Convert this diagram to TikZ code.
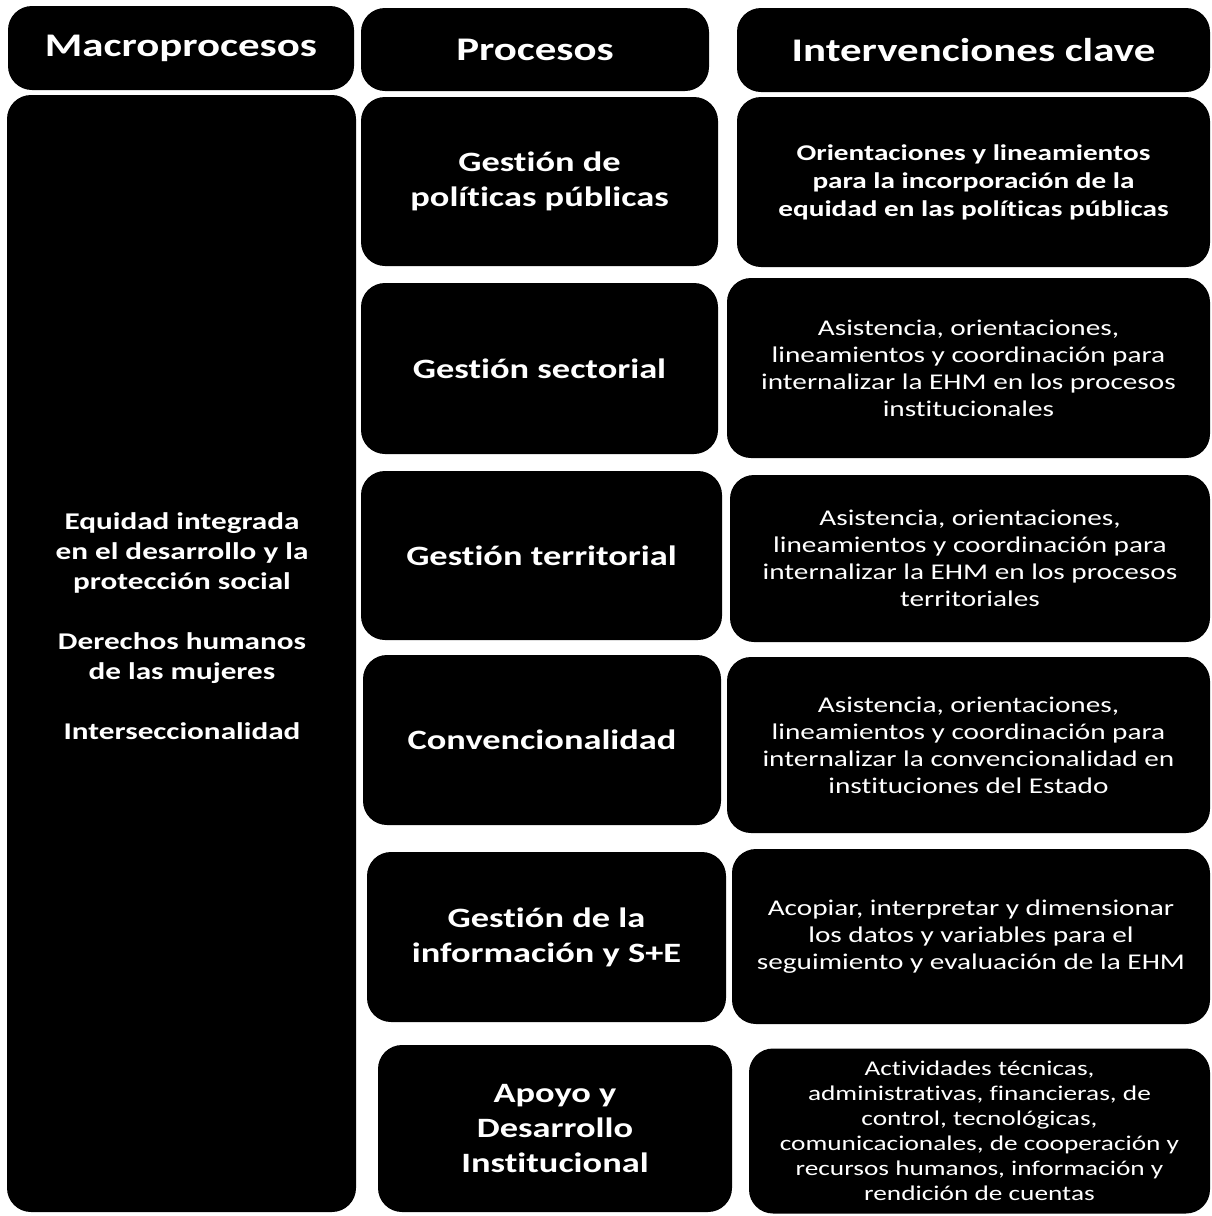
\documentclass[tikz,border=0pt]{standalone}
\usepackage{fontspec}
\setmainfont{Carlito}[FakeStretch=1.3, Ligatures=NoCommon]

\begin{document}
\begin{tikzpicture}[x=1pt, y=-1pt,
    box/.style={fill=black, rounded corners=24pt, text=white, align=center, inner sep=0pt},
    headbox/.style={box, font=\bfseries\fontsize{33}{40}\selectfont},
    procbox/.style={box, font=\bfseries\fontsize{28}{35}\selectfont},
    intbox/.style={box, font=\fontsize{22.5}{27}\selectfont}]
  \useasboundingbox (0,0) rectangle (1211,1216);

  % Headers
  \node[headbox, minimum width=346pt, minimum height=84pt] (macro_head) at (181,48) {Macroprocesos};
  \node[headbox, minimum width=348pt, minimum height=83pt] (proc_head) at (535,49.5) {Procesos};
  \node[headbox, minimum width=473pt, minimum height=84pt] (int_head) at (973.5,50) {Intervenciones clave};

  % Macroprocesos
  \node[box, minimum width=349pt, minimum height=1117pt] (macro) at (181.5,653.5) {};
  \node[text=white, align=center, font=\bfseries\fontsize{24}{30}\selectfont] (macro_text) at (182,626)
    {Equidad  integrada\\ en el desarrollo y la\\ protección social\\[30pt]
     Derechos humanos\\ de las mujeres\\[30pt] Interseccionalidad};

  % Procesos
  \node[procbox, minimum width=357pt, minimum height=169pt] (politicas) at (539.5,181.5) {Gestión de\\ políticas públicas};
  \node[procbox, minimum width=357pt, minimum height=171pt] (sectorial) at (539.5,368.5) {Gestión sectorial};
  \node[procbox, minimum width=361pt, minimum height=169pt] (territorial) at (541.5,555.5) {Gestión territorial};
  \node[procbox, minimum width=358pt, minimum height=170pt] (convencional) at (542,740) {Convencionalidad};
  \node[procbox, minimum width=359pt, minimum height=170pt] (informacion) at (546.5,937) {Gestión de la\\ información y S+E};
  \node[procbox, minimum width=354pt, minimum height=167pt] (apoyo) at (555,1128.5) {Apoyo y\\ Desarrollo\\ Institucional};

  % Intervenciones clave
  \node[intbox, font=\bfseries\fontsize{22.5}{28}\selectfont, minimum width=473pt, minimum height=170pt] (int_politicas) at (973.5,182)
    {Orientaciones y lineamientos\\ para la incorporación de la\\ equidad en las políticas públicas};
  \node[intbox, minimum width=483pt, minimum height=180pt] (int_sectorial) at (968.5,368)
    {Asistencia, orientaciones,\\ lineamientos y coordinación para\\ internalizar la EHM en los procesos\\ institucionales};
  \node[intbox, minimum width=480pt, minimum height=167pt] (int_territorial) at (970,558.5)
    {Asistencia, orientaciones,\\ lineamientos y coordinación para\\ internalizar la EHM en los procesos\\ territoriales};
  \node[intbox, minimum width=483pt, minimum height=176pt] (int_convencional) at (968.5,745)
    {Asistencia, orientaciones,\\ lineamientos y coordinación para\\ internalizar la convencionalidad en\\ instituciones del Estado};
  \node[intbox, minimum width=478pt, minimum height=175pt] (int_informacion) at (971,936.5)
    {Acopiar, interpretar y dimensionar\\ los datos y variables para el\\ seguimiento y evaluación de la EHM};
  \node[intbox, font=\fontsize{21}{25}\selectfont, minimum width=461pt, minimum height=165pt] (int_apoyo) at (979.5,1131)
    {Actividades técnicas,\\ administrativas, financieras, de\\ control, tecnológicas,\\ comunicacionales, de cooperación y\\ recursos humanos, información y\\ rendición de cuentas};
\end{tikzpicture}
\end{document}
